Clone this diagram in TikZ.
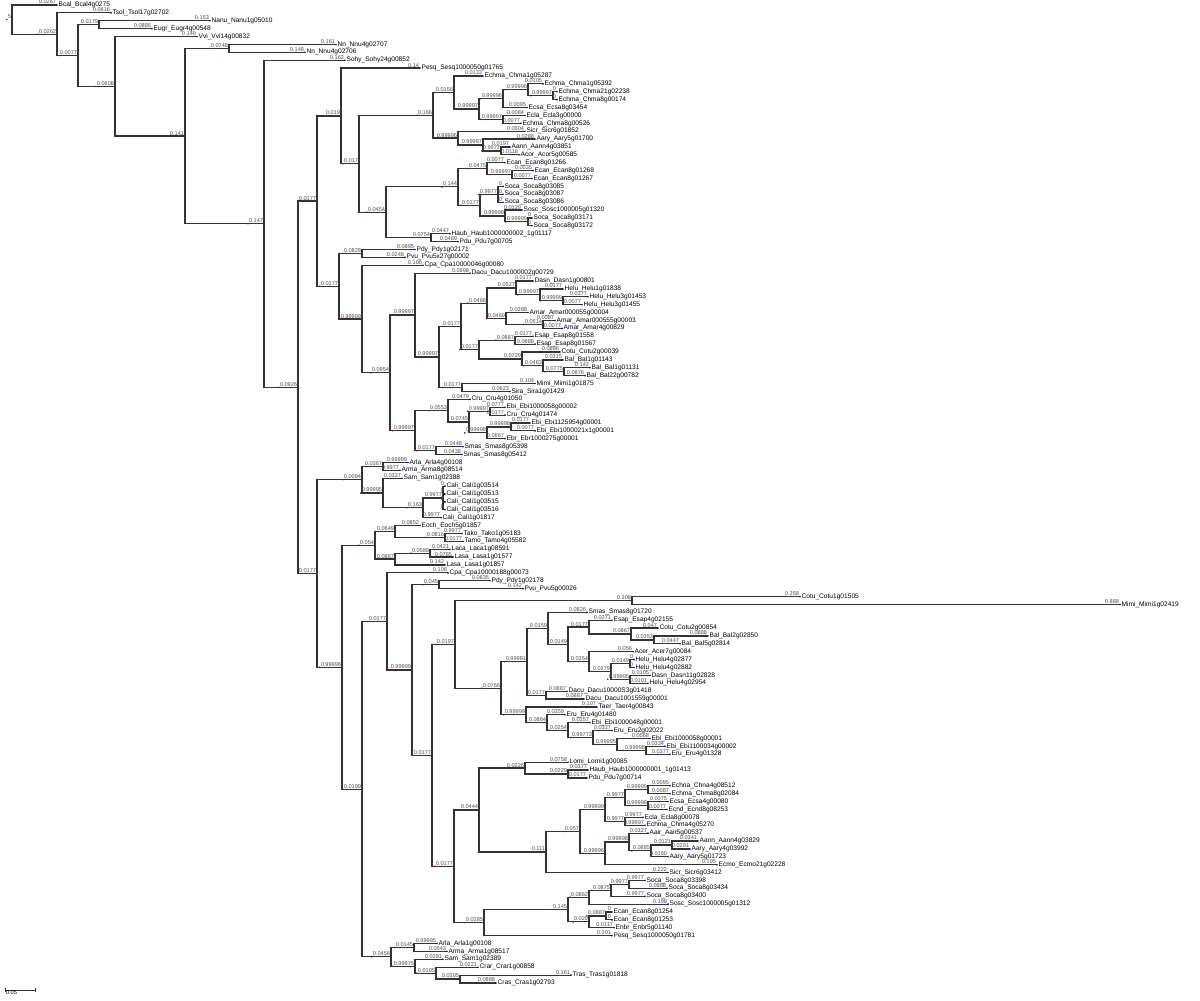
\documentclass[tikz,border=0pt]{standalone}
\usepackage{fontspec}
\setmainfont{Liberation Sans}
\begin{document}
\begin{tikzpicture}[
  font=\fontsize{3.3}{3.5}\selectfont,
  x=0.5pt, y=-3.9435pt,
  branch/.style={draw=black!80, line width=0.6pt},
  brlen/.style={anchor=south east, inner sep=0.3pt, text=black!70, font=\fontsize{2.8}{3}\selectfont},
  taxon/.style={anchor=west, inner sep=0.6pt},
  tipdot/.style={fill=blue!85!black},
  cladedot/.style={fill=red!75!black},
]
\useasboundingbox (0,-0.634) rectangle (1200,126.16);
\providecommand{\phyclade}[5]{%
  \coordinate (#1) at (#3,#4);
  \draw[branch] (#2) |- (#1);
  \node[brlen] (#1v) at (#1) {#5};
  \fill[cladedot] (#1v.south west) circle (0.45pt);
}
\providecommand{\phyleaf}[7]{%
  \node[taxon] (#1) at (#3,#4) {#6\_#7};
  \draw[branch] (#2) |- (#1.west);
  \node[brlen] at (#1.west) {#5};
  \fill[tipdot] (#1.west) circle (0.45pt);
}
\coordinate (croot) at (12,1.85);
\node[brlen] (crootv) at (croot) {5};
\fill[cladedot] (crootv.south west) circle (0.45pt);
% outgroups
\phyleaf{lf0}{croot}{57}{0}{0.0267}{Bcal}{Bcal4g0275}
\phyclade{cn1}{croot}{57}{3.70}{0.0262}
\phyleaf{lf1}{cn1}{111}{1}{0.0816}{Tsol}{Tsol17g02702}
\phyclade{cn2}{cn1}{78}{6.41}{0.0077}
\phyclade{cn3}{cn2}{99}{2.5}{0.0179}
\phyleaf{lf2}{cn3}{210}{2}{0.153}{Nanu}{Nanu1g05010}
\phyleaf{lf3}{cn3}{152}{3}{0.0885}{Eugr}{Eugr4g00548}
\phyclade{cn4}{cn2}{115}{10.31}{0.0608}
\phyleaf{lf4}{cn4}{197}{4}{0.149}{Vvi}{Vvi14g00832}
\phyclade{cn5}{cn4}{185}{16.62}{0.141}
\phyclade{cn6}{cn5}{229}{5.5}{0.0748}
\phyleaf{lf5}{cn6}{336}{5}{0.161}{Nn}{Nnu4g02707}
\phyleaf{lf6}{cn6}{305}{6}{0.148}{Nn}{Nnu4g02706}
\phyclade{cn7}{cn5}{264}{27.73}{0.147}
\phyleaf{lf7}{cn7}{345}{7}{0.162}{Sohy}{Sohy24g00852}
\phyclade{cn8}{cn7}{298}{48.47}{0.0926}
% upper clade
\phyclade{cu}{cn8}{317}{24.86}{0.0177}
\phyclade{ca}{cu}{341}{14.07}{0.019}
\phyleaf{lf8}{ca}{420}{8}{0.14}{Pesq}{Sesq1000050g01765}
\phyclade{cc}{ca}{359}{20.13}{0.017}
\phyclade{cd}{cc}{433}{13.98}{0.166}
\phyclade{cf}{cd}{454}{11.09}{0.0156}
\phyleaf{lf9}{cf}{483}{9}{0.0133}{Echma}{Chma1g05287}
\phyclade{ch}{cf}{479}{13.19}{0.99997}
\phyclade{ci}{ch}{503}{11.875}{0.99996}
\phyclade{ck}{ci}{528}{10.75}{0.99996}
\phyleaf{lf10}{ck}{543}{10}{0.0105}{Echma}{Chma1g05392}
\phyclade{cm}{ck}{553}{11.5}{0.99997}
\phyleaf{lf11}{cm}{557}{11}{0}{Echma}{Chma21g02238}
\phyleaf{lf12}{cm}{557}{12}{0}{Echma}{Chma8g00174}
\phyleaf{lf13}{ci}{527}{13}{0.0095}{Ecsa}{Ecsa8g03454}
\phyclade{cj}{ch}{503}{14.5}{0.99997}
\phyleaf{lf14}{cj}{525}{14}{0.0084}{Ecla}{Ecla3g00000}
\phyleaf{lf15}{cj}{521}{15}{0.0077}{Echma}{Chma8g00526}
\phyclade{cg}{cd}{458}{16.875}{0.99996}
\phyleaf{lf16}{cg}{525}{16}{0.0604}{Sicr}{Sicr6g01852}
\phyclade{cg2}{cg}{483}{17.75}{0.99997}
\phyleaf{lf17}{cg2}{535}{17}{0.0288}{Aary}{Aary5g01700}
\phyclade{cg3}{cg2}{501}{18.5}{0.9977}
\phyleaf{lf18}{cg3}{510}{18}{0.0197}{Aann}{Aann4g03851}
\phyleaf{lf19}{cg3}{519}{19}{0.0118}{Acor}{Acor5g00585}
\phyclade{ce}{cc}{386}{26.28}{0.0454}
\phyclade{ce1}{ce}{458}{23.06}{0.144}
\phyclade{ce3}{ce1}{487}{20.75}{0.0475}
\phyleaf{lf20}{ce3}{505}{20}{0.0077}{Ecan}{Ecan8g01266}
\phyclade{ce5}{ce3}{512}{21.5}{0.99997}
\phyleaf{lf21}{ce5}{533}{21}{0.0035}{Ecan}{Ecan8g01268}
\phyleaf{lf22}{ce5}{532}{22}{0.0077}{Ecan}{Ecan8g01267}
\phyclade{ce4}{ce1}{480}{25.375}{0.0177}
\phyclade{ce6}{ce4}{498}{24}{0.9977}
\phyleaf{lf23}{ce6}{503}{23}{0}{Soca}{Soca8g03085}
\phyleaf{lf24}{ce6}{503}{24}{0}{Soca}{Soca8g03087}
\phyleaf{lf25}{ce6}{503}{25}{0}{Soca}{Soca8g03086}
\phyclade{ce7}{ce4}{505}{26.75}{0.99998}
\phyleaf{lf26}{ce7}{522}{26}{0.0129}{Sosc}{Sosc1000005g01320}
\phyclade{ce8}{ce7}{528}{27.5}{0.99999}
\phyleaf{lf27}{ce8}{532}{27}{0}{Soca}{Soca8g03171}
\phyleaf{lf28}{ce8}{532}{28}{0}{Soca}{Soca8g03172}
\phyclade{ce2}{ce}{431}{29.5}{0.0754}
\phyleaf{lf29}{ce2}{450}{29}{0.0447}{Haub}{Haub1000000002\_1g01117}
\phyleaf{lf30}{ce2}{458}{30}{0.0489}{Pdu}{Pdu7g00705}
\phyclade{cb}{cu}{339}{35.66}{0.0177}
\phyclade{cb1}{cb}{362}{31.5}{0.0828}
\phyleaf{lf31}{cb1}{415}{31}{0.0895}{Pdy}{Pdy1g02171}
\phyleaf{lf32}{cb1}{405}{32}{0.0248}{Pvu}{Pvu5x27g00002}
\phyclade{cp1}{cb}{362}{39.82}{0.99999}
\phyleaf{lf33}{cp1}{423}{33}{0.106}{Cpa}{Cpa10000046g00080}
\phyclade{cp2}{cp1}{390}{46.64}{0.0954}
\phyclade{cp3}{cp2}{415}{39.31}{0.99997}
\phyleaf{lf34}{cp3}{470}{34}{0.0998}{Dacu}{Dacu1000002g00729}
\phyclade{cp5}{cp3}{439}{44.625}{0.99997}
\phyclade{cp6}{cp5}{461}{40.75}{0.0177}
\phyclade{cp8}{cp6}{487}{37.81}{0.0486}
\phyclade{cp10}{cp8}{516}{35.875}{0.0527}
\phyleaf{lf35}{cp10}{533}{35}{0.0177}{Dasn}{Dasn1g00801}
\phyclade{cp11}{cp10}{540}{36.75}{0.99997}
\phyleaf{lf36}{cp11}{563}{36}{0.0177}{Helu}{Helu1g01838}
\phyclade{cp12}{cp11}{563}{37.5}{0.99999}
\phyleaf{lf37}{cp12}{588}{37}{0.0177}{Helu}{Helu3g01453}
\phyleaf{lf38}{cp12}{582}{38}{0.0077}{Helu}{Helu3g01455}
\phyclade{cp13}{cp8}{506}{39.75}{0.0469}
\phyleaf{lf39}{cp13}{528}{39}{0.0288}{Amar}{Amar000055g00004}
\phyclade{cp14}{cp13}{543}{40.5}{0.0514}
\phyleaf{lf40}{cp14}{555}{40}{0.0087}{Amar}{Amar000555g00003}
\phyleaf{lf41}{cp14}{562}{41}{0.0077}{Amar}{Amar4g00829}
\phyclade{cp9}{cp6}{479}{43.69}{0.0177}
\phyclade{cp15}{cp9}{515}{42.5}{0.0887}
\phyleaf{lf42}{cp15}{533}{42}{0.0177}{Esap}{Esap8g01558}
\phyleaf{lf43}{cp15}{535}{43}{0.0888}{Esap}{Esap8g01567}
\phyclade{cp16}{cp9}{522}{44.875}{0.0729}
\phyleaf{lf44}{cp16}{560}{44}{0.0886}{Cotu}{Cotu2g00039}
\phyclade{cp17}{cp16}{543}{45.75}{0.0483}
\phyleaf{lf45}{cp17}{563}{45}{0.0315}{Bal}{Bal1g01143}
\phyclade{cp18}{cp17}{564}{46.5}{0.0775}
\phyleaf{lf46}{cp18}{590}{46}{0.142}{Bal}{Bal1g01131}
\phyleaf{lf47}{cp18}{585}{47}{0.0876}{Bal}{Bal22g00782}
\phyclade{cp7}{cp5}{462}{48.5}{0.0177}
\phyleaf{lf48}{cp7}{535}{48}{0.104}{Mimi}{Mimi1g01875}
\phyleaf{lf49}{cp7}{510}{49}{0.0623}{Sira}{Sira1g01429}
\phyclade{cp4}{cp2}{415}{53.97}{0.99997}
\phyclade{cp19}{cp4}{448}{51.44}{0.0553}
\phyleaf{lf50}{cp19}{470}{50}{0.0479}{Cru}{Cru4g01050}
\phyclade{cp21}{cp19}{469}{52.875}{0.0745}
\phyclade{cp22}{cp21}{490}{51.5}{0.99997}
\phyleaf{lf51}{cp22}{505}{51}{0.0777}{Ebi}{Ebi1000058g00002}
\phyleaf{lf52}{cp22}{505}{52}{0.0177}{Cru}{Cru4g01474}
\phyclade{cp23}{cp21}{487}{54.25}{0.99998}
\phyclade{cp24}{cp23}{511}{53.5}{0.99998}
\phyleaf{lf53}{cp24}{530}{53}{0.0177}{Ebi}{Ebi1125954g00001}
\phyleaf{lf54}{cp24}{535}{54}{0.0077}{Ebi}{Ebi1000021x1g00001}
\phyleaf{lf55}{cp23}{505}{55}{0.0667}{Ebr}{Ebr1000275g00001}
\phyclade{cp20}{cp4}{436}{56.5}{0.0177}
\phyleaf{lf56}{cp20}{463}{56}{0.0448}{Smas}{Smas8g05398}
\phyleaf{lf57}{cp20}{462}{57}{0.0438}{Smas}{Smas8g05412}
% lower clade
\phyclade{cq}{cn8}{317}{72.07}{0.0177}
\phyclade{cr}{cq}{362}{60.19}{0.0094}
\phyclade{cr1}{cr}{383}{58.5}{0.0367}
\phyleaf{lf58}{cr1}{408}{58}{0.99999}{Arla}{Arla4g00108}
\phyleaf{lf59}{cr1}{400}{59}{0.9977}{Arma}{Arma8g08514}
\phyclade{cr2}{cr}{383}{61.875}{0.99995}
\phyleaf{lf60}{cr2}{402}{60}{0.0327}{Sam}{Sam1g02388}
\phyclade{cr3}{cr2}{423}{63.75}{0.163}
\phyclade{cr4}{cr3}{443}{62.5}{0.9977}
\phyleaf{lf61}{cr4}{445}{61}{0}{Cali}{Cali1g03514}
\phyleaf{lf62}{cr4}{445}{62}{0}{Cali}{Cali1g03513}
\phyleaf{lf63}{cr4}{445}{63}{0}{Cali}{Cali1g03515}
\phyleaf{lf64}{cr4}{445}{64}{0}{Cali}{Cali1g03516}
\phyleaf{lf65}{cr3}{441}{65}{0.9977}{Cali}{Cali1g01817}
\phyclade{cs}{cq}{342}{83.96}{0.99996}
\phyclade{co}{cs}{375}{68.5}{0.054}
\phyclade{co1}{co}{395}{66.75}{0.0649}
\phyleaf{lf66}{co1}{420}{66}{0.0852}{Eoch}{Eoch5g01857}
\phyclade{co3}{co1}{445}{67.5}{0.0816}
\phyleaf{lf67}{co3}{462}{67}{0.9977}{Tako}{Tako1g05183}
\phyleaf{lf68}{co3}{463}{68}{0.0177}{Tamo}{Tamo4g05582}
\phyclade{co2}{co}{395}{70.25}{0.0887}
\phyclade{co4}{co2}{430}{69.5}{0.0589}
\phyleaf{lf69}{co4}{450}{69}{0.0421}{Laca}{Laca1g08591}
\phyleaf{lf70}{co4}{453}{70}{0.0785}{Lasa}{Lasa1g01577}
\phyleaf{lf71}{co2}{445}{71}{0.142}{Lasa}{Lasa1g01857}
\phyclade{cv}{cs}{362}{99.42}{0.0199}
\phyclade{cw}{cv}{387}{78.16}{0.0177}
\phyleaf{lf72}{cw}{448}{72}{0.106}{Cpa}{Cpa10000188g00073}
\phyclade{cw1}{cw}{412}{84.32}{0.99999}
\phyclade{cw2}{cw1}{439}{73.5}{0.045}
\phyleaf{lf73}{cw2}{490}{73}{0.0835}{Pdy}{Pdy1g02178}
\phyleaf{lf74}{cw2}{523}{74}{0.142}{Pvu}{Pvu5g00026}
\phyclade{cw3}{cw1}{432}{95.13}{0.0177}
\phyclade{cw4}{cw3}{455}{81.06}{0.0197}
\phyclade{cw6}{cw4}{632}{75.5}{0.308}
\phyleaf{lf75}{cw6}{800}{75}{0.358}{Cotu}{Cotu1g01505}
\phyleaf{lf76}{cw6}{1120}{76}{0.888}{Mimi}{Mimi1g02419}
\phyclade{cw7}{cw4}{501}{86.63}{0.0766}
\phyclade{cw8}{cw7}{527}{83.27}{0.99981}
\phyclade{cw10}{cw8}{548}{79.03}{0.0159}
\phyleaf{lf77}{cw10}{587}{77}{0.0826}{Smas}{Smas8g01720}
\phyclade{cw12}{cw10}{568}{81.06}{0.0149}
\phyclade{cw13}{cw12}{589}{78.875}{0.0177}
\phyleaf{lf78}{cw13}{612}{78}{0.0271}{Esap}{Esap4g02155}
\phyclade{cw15}{cw13}{631}{79.75}{0.0867}
\phyleaf{lf79}{cw15}{658}{79}{0.047}{Cotu}{Cotu2g00854}
\phyclade{cw16}{cw15}{654}{80.5}{0.0353}
\phyleaf{lf80}{cw16}{708}{80}{0.0888}{Bal}{Bal2g02850}
\phyleaf{lf81}{cw16}{680}{81}{0.0447}{Bal}{Bal5g02814}
\phyclade{cw14}{cw12}{589}{83.25}{0.0354}
\phyleaf{lf82}{cw14}{633}{82}{0.056}{Acer}{Acer7g00084}
\phyclade{cw17}{cw14}{611}{84.5}{0.0279}
\phyclade{cw18}{cw17}{630}{83.5}{0.0149}
\phyleaf{lf83}{cw18}{634}{83}{0}{Helu}{Helu4g02877}
\phyleaf{lf84}{cw18}{634}{84}{0}{Helu}{Helu4g02882}
\phyclade{cw19}{cw17}{630}{85.5}{0.99995}
\phyleaf{lf85}{cw19}{650}{85}{0.0105}{Dasn}{Dasn11g02828}
\phyleaf{lf86}{cw19}{648}{86}{0.0101}{Helu}{Helu4g02954}
\phyclade{cw11}{cw8}{546}{87.5}{0.0177}
\phyleaf{lf87}{cw11}{567}{87}{0.0887}{Dacu}{Dacu10000S3g01418}
\phyleaf{lf88}{cw11}{584}{88}{0.0887}{Dacu}{Dacu1001559g00001}
\phyclade{cw9}{cw7}{526}{89.98}{0.99999}
\phyleaf{lf89}{cw9}{597}{89}{0.107}{Taer}{Taer4g00843}
\phyclade{cw20}{cw9}{547}{90.97}{0.0864}
\phyleaf{lf90}{cw20}{565}{90}{0.0359}{Eru}{Eru4g01480}
\phyclade{cw21}{cw20}{568}{91.94}{0.0254}
\phyleaf{lf91}{cw21}{590}{91}{0.0357}{Ebi}{Ebi1000048g00001}
\phyclade{cw22}{cw21}{593}{92.875}{0.99773}
\phyleaf{lf92}{cw22}{612}{92}{0.0327}{Eru}{Eru2g02022}
\phyclade{cw23}{cw22}{617}{93.75}{0.99995}
\phyleaf{lf93}{cw23}{650}{93}{0.0568}{Ebi}{Ebi1000058g00001}
\phyclade{cw24}{cw23}{646}{94.5}{0.99998}
\phyleaf{lf94}{cw24}{665}{94}{0.0334}{Ebi}{Ebi1100034g00002}
\phyleaf{lf95}{cw24}{670}{95}{0.0377}{Eru}{Eru4g01328}
\phyclade{cw5}{cw3}{454}{109.2}{0.0177}
\phyclade{cy}{cw5}{479}{102.07}{0.0444}
\phyclade{cy1}{cy}{525}{96.75}{0.0226}
\phyleaf{lf96}{cy1}{568}{96}{0.0758}{Lomi}{Lomi1g00085}
\phyclade{cy3}{cy1}{568}{97.5}{0.0229}
\phyleaf{lf97}{cy3}{588}{97}{0.0377}{Haub}{Haub1000000001\_1g01413}
\phyleaf{lf98}{cy3}{587}{98}{0.0177}{Pdu}{Pdu7g00714}
\phyclade{cy2}{cy}{546}{107.39}{0.111}
\phyclade{cy4}{cy2}{580}{104.78}{0.057}
\phyclade{cy5}{cy4}{605}{102}{0.99999}
\phyclade{cy7}{cy5}{625}{100.5}{0.9977}
\phyclade{cy9}{cy7}{648}{99.5}{0.99999}
\phyleaf{lf99}{cy9}{670}{99}{0.0095}{Echna}{Chna4g08512}
\phyleaf{lf100}{cy9}{670}{100}{0.0087}{Echma}{Chma8g02084}
\phyclade{cy10}{cy7}{648}{101.5}{0.99998}
\phyleaf{lf101}{cy10}{668}{101}{0.0075}{Ecsa}{Ecsa4g00080}
\phyleaf{lf102}{cy10}{667}{102}{0.0077}{Ecnd}{Ecnd8g08253}
\phyclade{cy8}{cy5}{625}{103.5}{0.9977}
\phyleaf{lf103}{cy8}{643}{103}{0.9977}{Ecla}{Ecla8g00078}
\phyleaf{lf104}{cy8}{645}{104}{0.99997}{Echma}{Chma4g05270}
\phyclade{cy6}{cy4}{605}{107.56}{0.99996}
\phyclade{cy11}{cy6}{629}{106.125}{0.99998}
\phyleaf{lf105}{cy11}{648}{105}{0.0327}{Aair}{Aair5g00537}
\phyclade{cy12}{cy11}{651}{107.25}{0.0885}
\phyclade{cy13}{cy12}{672}{106.5}{0.0121}
\phyleaf{lf106}{cy13}{698}{106}{0.0341}{Aann}{Aann4g03829}
\phyleaf{lf107}{cy13}{690}{107}{0.0291}{Aary}{Aary4g03992}
\phyleaf{lf108}{cy12}{668}{108}{0.0160}{Aary}{Aary5g01723}
\phyleaf{lf109}{cy6}{717}{109}{0.195}{Ecmo}{Ecmo21g02228}
\phyleaf{lf110}{cy2}{668}{110}{0.222}{Sicr}{Sicr6g03412}
\phyclade{cz}{cw5}{484}{116.34}{0.0285}
\phyclade{cz1}{cz}{568}{114.69}{0.145}
\phyclade{cz2}{cz1}{589}{113.125}{0.0882}
\phyclade{cz4}{cz2}{611}{112.25}{0.0875}
\phyclade{cz5}{cz4}{629}{111.5}{0.9977}
\phyleaf{lf111}{cz5}{645}{111}{0.9977}{Soca}{Soca8g03398}
\phyleaf{lf112}{cz5}{667}{112}{0.0888}{Soca}{Soca8g03434}
\phyleaf{lf113}{cz4}{645}{113}{0.9977}{Soca}{Soca8g03400}
\phyleaf{lf114}{cz2}{668}{114}{0.198}{Sosc}{Sosc1000005g01312}
\phyclade{cz3}{cz1}{589}{116.25}{0.029}
\phyclade{cz6}{cz3}{606}{115.5}{0.0887}
\phyleaf{lf115}{cz6}{612}{115}{0}{Ecan}{Ecan8g01254}
\phyleaf{lf116}{cz6}{612}{116}{0}{Ecan}{Ecan8g01253}
\phyleaf{lf117}{cz3}{614}{117}{0.0117}{Enbr}{Enbr5g01140}
\phyleaf{lf118}{cz}{612}{118}{0.201}{Pesq}{Sesq1000050g01781}
\phyclade{cx}{cv}{391}{120.69}{0.0456}
\phyclade{cx1}{cx}{414}{119.5}{0.0145}
\phyleaf{lf119}{cx1}{437}{119}{0.99995}{Arla}{Arla1g00108}
\phyleaf{lf120}{cx1}{447}{120}{0.0543}{Arma}{Arma1g08517}
\phyclade{cx2}{cx}{415}{121.875}{0.99975}
\phyleaf{lf121}{cx2}{443}{121}{0.0281}{Sam}{Sam1g02389}
\phyclade{cx3}{cx2}{436}{122.75}{0.0195}
\phyleaf{lf122}{cx3}{478}{122}{0.0221}{Crar}{Crar1g00858}
\phyclade{cx4}{cx3}{460}{123.5}{0.0305}
\phyleaf{lf123}{cx4}{571}{123}{0.161}{Tras}{Tras1g01818}
\phyleaf{lf124}{cx4}{496}{124}{0.0888}{Cras}{Cras1g02793}
% scale bar
\coordinate (sb0) at (5,124.9);
\coordinate (sb1) at (35,124.9);
\draw[black!80, line width=0.4pt] (sb0) -- (sb1) (sb0) ++(0,-0.25) -- ++(0,0.5) (sb1) ++(0,-0.25) -- ++(0,0.5);
\node[anchor=north west, inner sep=0.3pt, font=\fontsize{2.8}{3}\selectfont] (sblab) at (sb0) {0.05};
\end{tikzpicture}
\end{document}
